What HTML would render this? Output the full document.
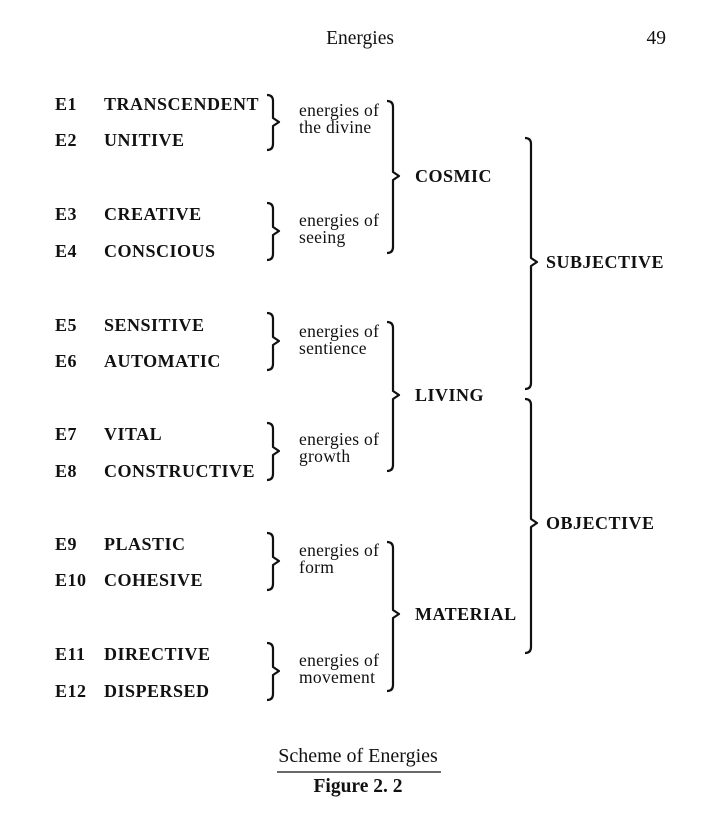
<!DOCTYPE html>
<html><head><meta charset="utf-8"><style>
html,body{margin:0;padding:0;background:#fff;width:711px;height:816px;overflow:hidden}
svg{display:block}
text{font-family:"Liberation Serif",serif;fill:#111}
.b{font-weight:bold;font-size:18px;letter-spacing:0.5px}
.n{font-size:17.5px;letter-spacing:0.3px}
path{fill:none;stroke:#111;stroke-width:2.2;stroke-linejoin:round}
</style></head><body>
<svg width="711" height="816" viewBox="0 0 711 816" xmlns="http://www.w3.org/2000/svg">
<text x="360" y="44" font-size="19.5" text-anchor="middle">Energies</text>
<text x="666" y="44" font-size="19.5" text-anchor="end">49</text>

<text x="55" y="110" class="b">E1</text><text x="104" y="110" class="b">TRANSCENDENT</text>
<text x="55" y="146" class="b">E2</text><text x="104" y="146" class="b">UNITIVE</text>
<text x="55" y="220" class="b">E3</text><text x="104" y="220" class="b">CREATIVE</text>
<text x="55" y="257" class="b">E4</text><text x="104" y="257" class="b">CONSCIOUS</text>
<text x="55" y="331" class="b">E5</text><text x="104" y="331" class="b">SENSITIVE</text>
<text x="55" y="367" class="b">E6</text><text x="104" y="367" class="b">AUTOMATIC</text>
<text x="55" y="440" class="b">E7</text><text x="104" y="440" class="b">VITAL</text>
<text x="55" y="477" class="b">E8</text><text x="104" y="477" class="b">CONSTRUCTIVE</text>
<text x="55" y="550" class="b">E9</text><text x="104" y="550" class="b">PLASTIC</text>
<text x="55" y="586" class="b">E10</text><text x="104" y="586" class="b">COHESIVE</text>
<text x="55" y="660" class="b">E11</text><text x="104" y="660" class="b">DIRECTIVE</text>
<text x="55" y="697" class="b">E12</text><text x="104" y="697" class="b">DISPERSED</text>

<text x="299" y="116" class="n">energies of</text><text x="299" y="133" class="n">the divine</text>
<text x="299" y="226" class="n">energies of</text><text x="299" y="243" class="n">seeing</text>
<text x="299" y="337" class="n">energies of</text><text x="299" y="354" class="n">sentience</text>
<text x="299" y="445" class="n">energies of</text><text x="299" y="462" class="n">growth</text>
<text x="299" y="556" class="n">energies of</text><text x="299" y="573" class="n">form</text>
<text x="299" y="666" class="n">energies of</text><text x="299" y="683" class="n">movement</text>

<text x="415" y="182" class="b">COSMIC</text>
<text x="415" y="401" class="b">LIVING</text>
<text x="415" y="620" class="b">MATERIAL</text>
<text x="546" y="268" class="b">SUBJECTIVE</text>
<text x="546" y="529" class="b">OBJECTIVE</text>

<path d="M267,95 Q273,95 273,101 L273,118 L279,122 L273,126 L273,144 Q273,150 267,150"/>
<path d="M267,203 Q273,203 273,209 L273,227 L279,231 L273,235 L273,254 Q273,260 267,260"/>
<path d="M267,313 Q273,313 273,319 L273,337 L279,341 L273,345 L273,364 Q273,370 267,370"/>
<path d="M267,423 Q273,423 273,429 L273,447 L279,451 L273,455 L273,474 Q273,480 267,480"/>
<path d="M267,533 Q273,533 273,539 L273,557 L279,561 L273,565 L273,584 Q273,590 267,590"/>
<path d="M267,643 Q273,643 273,649 L273,667 L279,671 L273,675 L273,694 Q273,700 267,700"/>
<path d="M387,101 Q393,101 393,107 L393,172 L399,176 L393,180 L393,247 Q393,253 387,253"/>
<path d="M387,322 Q393,322 393,328 L393,391 L399,395 L393,399 L393,465 Q393,471 387,471"/>
<path d="M387,542 Q393,542 393,548 L393,610 L399,614 L393,618 L393,685 Q393,691 387,691"/>
<path d="M525,138 Q531,138 531,144 L531,258 L537,262 L531,266 L531,383 Q531,389 525,389"/>
<path d="M525,399 Q531,399 531,405 L531,519 L537,523 L531,527 L531,647 Q531,653 525,653"/>

<text x="358" y="762" font-size="20" text-anchor="middle">Scheme of Energies</text>
<line x1="277" y1="772" x2="441" y2="772" stroke="#111" stroke-width="1.3"/>
<text x="358" y="792" font-size="19.5" font-weight="bold" text-anchor="middle">Figure 2. 2</text>
</svg>
</body></html>
